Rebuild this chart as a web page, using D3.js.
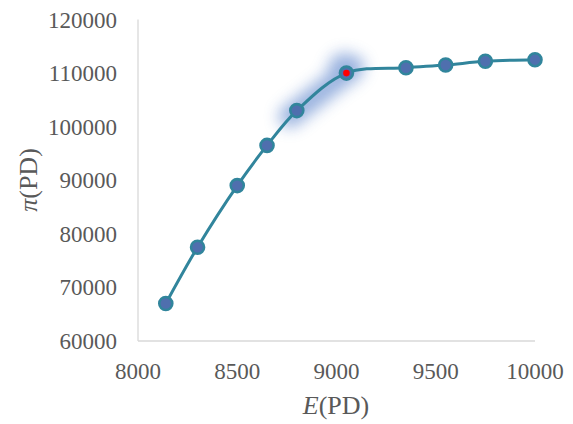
<!DOCTYPE html>
<html><head><meta charset="utf-8">
<script src="https://cdn.jsdelivr.net/npm/d3@7"></script>
<style>body{margin:0;background:#fff}</style>
</head><body>
<svg id="c" width="573" height="424"></svg>
<script>
const eValues = [8140, 8300, 8500, 8650, 8800, 9050, 9350, 9550, 9750, 10000];
const piValues = [67000, 77500, 89000, 96500, 103000, 110000, 111000, 111500, 112200, 112500];
const xTicks = [8000, 8500, 9000, 9500, 10000];
const yTicks = [60000, 70000, 80000, 90000, 100000, 110000, 120000];
const highlightIndex = 5;

const svg = d3.select("#c");
const x = d3.scaleLinear().domain([8000, 10000]).range([138, 535]);
const y = d3.scaleLinear().domain([60000, 120000]).range([341, 19.5]);
const font = "'Liberation Serif','Times New Roman',serif";

const defs = svg.append("defs");
defs.append("filter").attr("id","glow").attr("x","-60%").attr("y","-60%").attr("width","220%").attr("height","220%")
  .append("feGaussianBlur").attr("stdDeviation", 7.5);

// axes
svg.append("line").attr("x1",x(8000)).attr("x2",x(10000)).attr("y1",y(60000)).attr("y2",y(60000))
  .attr("stroke","#d9d9d9").attr("stroke-width",1.3);
svg.append("line").attr("x1",x(8000)).attr("x2",x(8000)).attr("y1",y(60000)).attr("y2",y(120000))
  .attr("stroke","#d9d9d9").attr("stroke-width",1.3);

svg.append("g").selectAll("text").data(yTicks).join("text")
  .attr("x",117).attr("y",d=>y(d)).attr("dy","0.35em").attr("text-anchor","end")
  .attr("font-family",font).attr("font-size",23).attr("fill","#595959").text(d=>d);
svg.append("g").selectAll("text").data(xTicks).join("text")
  .attr("x",d=>x(d)).attr("y",371).attr("dy","0.35em").attr("text-anchor","middle")
  .attr("font-family",font).attr("font-size",23).attr("fill","#595959").text(d=>d);

// titles
const xt = svg.append("text").attr("x",336).attr("y",414).attr("text-anchor","middle")
  .attr("font-family",font).attr("font-size",26).attr("fill","#595959");
xt.append("tspan").attr("font-style","italic").text("E");
xt.append("tspan").text("(PD)");
const yt = svg.append("text").attr("transform","translate(37,180) rotate(-90)").attr("text-anchor","middle")
  .attr("font-family",font).attr("font-size",26).attr("fill","#595959");
yt.append("tspan").attr("font-style","italic").text("π");
yt.append("tspan").text("(PD)");

const pts = eValues.map((e,i)=>[x(e), y(piValues[i])]);

// glow around the highlighted segment
const p0 = pts[highlightIndex-1], p1 = pts[highlightIndex];
const glow = svg.append("g").attr("filter","url(#glow)").attr("opacity",0.55);
glow.append("line")
  .attr("x1", p0[0]-7).attr("y1", p0[1]+6)
  .attr("x2", p1[0]+7).attr("y2", p1[1]-6)
  .attr("stroke","#4472c4").attr("stroke-width",22).attr("stroke-linecap","round");
glow.append("circle").attr("cx",p1[0]-2).attr("cy",p1[1]-4).attr("r",16).attr("fill","#4472c4");

const line = d3.line().curve(d3.curveCatmullRom.alpha(0.5));
svg.append("path").attr("d", line(pts)).attr("fill","none").attr("stroke","#31859c").attr("stroke-width",3);

svg.append("g").selectAll("circle").data(pts).join("circle")
  .attr("cx",d=>d[0]).attr("cy",d=>d[1]).attr("r",6.5)
  .attr("fill","#4f6fae").attr("stroke","#31859c").attr("stroke-width",2.6);

svg.append("circle").attr("cx",p1[0]).attr("cy",p1[1]).attr("r",3.3).attr("fill","#ff0000");
</script>
</body></html>
